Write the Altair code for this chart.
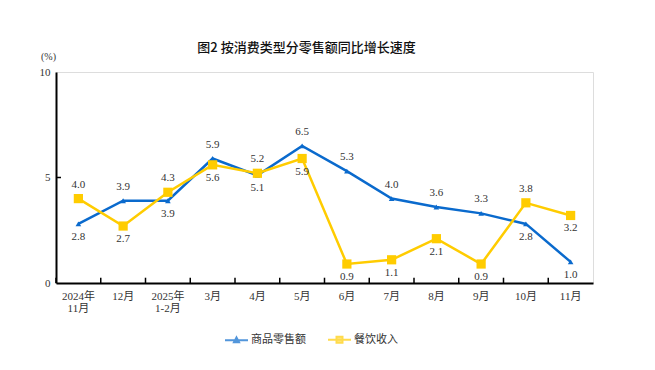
import altair as alt
import pandas as pd

months = ["2024年\n11月", "12月", "2025年\n1-2月", "3月", "4月", "5月",
          "6月", "7月", "8月", "9月", "10月", "11月"]
retail = [2.8, 3.9, 3.9, 5.9, 5.1, 6.5, 5.3, 4.0, 3.6, 3.3, 2.8, 1.0]
catering = [4.0, 2.7, 4.3, 5.6, 5.2, 5.9, 0.9, 1.1, 2.1, 0.9, 3.8, 3.2]
series_names = ["商品零售额", "餐饮收入"]
colors = ["#0A6ACD", "#FFCC00"]

rows = []
for i, m in enumerate(months):
    for s, vals, other in ((series_names[0], retail, catering), (series_names[1], catering, retail)):
        above = vals[i] > other[i]
        if s == series_names[1] and i == len(months) - 1:
            above = False
        rows.append({"month": m, "series": s, "value": vals[i], "above": above})
df = pd.DataFrame(rows)

serif = "Liberation Serif, Noto Sans CJK SC"
txt = "#333333"

x_enc = alt.X("month:N", sort=months,
              scale=alt.Scale(type="band", paddingInner=0, paddingOuter=0),
              axis=alt.Axis(title=None, labelAngle=0, ticks=False, labelPadding=7,
                            labelExpr="split(datum.label, '\\n')",
                            labelFont=serif, labelFontSize=11, labelColor=txt,
                            labelLineHeight=12, domainColor="#000000", domainWidth=2))
y_enc = alt.Y("value:Q", scale=alt.Scale(domain=[0, 10]),
              axis=alt.Axis(values=[0, 5, 10], grid=False, ticks=False, labelPadding=6,
                            labelFont=serif, labelFontSize=11, labelColor=txt,
                            domainColor="#000000", domainWidth=2,
                            title="(%)", titleAngle=0, titleX=-8, titleY=-16,
                            titleAlign="center", titleBaseline="middle",
                            titleFont=serif, titleFontSize=10, titleFontWeight="normal",
                            titleColor=txt))

color_scale = alt.Scale(domain=series_names, range=colors)
leg = alt.Legend(title=None, orient="none", legendX=168, legendY=255,
                 direction="horizontal", symbolSize=529, symbolStrokeWidth=2,
                 columnPadding=18, labelOffset=2, labelFont=serif, labelFontSize=11,
                 labelColor=txt)
base = alt.Chart(df)

lines = base.mark_line(strokeWidth=2.5).encode(
    x=x_enc, y=y_enc,
    color=alt.Color("series:N", scale=color_scale, legend=leg),
)

pts_blue = base.transform_filter(alt.datum.series == series_names[0]).mark_point(
    filled=True, opacity=1, shape="triangle-up", size=32, color=colors[0]
).encode(x=x_enc, y=y_enc)
pts_yellow = base.transform_filter(alt.datum.series == series_names[1]).mark_point(
    filled=True, opacity=1, shape="square", size=85, color=colors[1]
).encode(x=x_enc, y=y_enc)

lab_above = base.transform_filter(alt.datum.above).mark_text(
    dy=-14, font=serif, fontSize=11, color=txt, baseline="middle"
).encode(x=x_enc, y=y_enc, text=alt.Text("value:Q", format=".1f"))
lab_below = base.transform_filter(~alt.datum.above).mark_text(
    dy=13, font=serif, fontSize=11, color=txt, baseline="middle"
).encode(x=x_enc, y=y_enc, text=alt.Text("value:Q", format=".1f"))

tick_df = pd.DataFrame({"month": months})
xticks = alt.Chart(tick_df).mark_rule(color="#000000", strokeWidth=1.5).encode(
    x=alt.X("month:N", sort=months, bandPosition=0),
    y=alt.datum(0), y2=alt.datum(0.25),
)
yticks = alt.Chart(pd.DataFrame({"v": [5]})).mark_rule(color="#000000", strokeWidth=1.5).encode(
    y=alt.Y("v:Q"), x=alt.value(0), x2=alt.value(5),
)

blue_sym = "M-1,0H1M0,-0.24L0.22,0.18L-0.22,0.18Z"
yellow_sym = "M-1,0H1M-0.26,-0.26H0.26V0.26H-0.26Z"
legend = base.mark_point(filled=True, size=1).encode(
    x=x_enc, y=y_enc,
    fill=alt.Fill("series:N", scale=color_scale, legend=leg),
    shape=alt.Shape("series:N", scale=alt.Scale(domain=series_names, range=[blue_sym, yellow_sym]),
                    legend=leg),
)

chart = alt.layer(lines, legend, pts_blue, pts_yellow, lab_above, lab_below, xticks, yticks).properties(
    width=537, height=211,
    title=alt.TitleParams("图2  按消费类型分零售额同比增长速度", font="Noto Sans CJK SC",
                          fontSize=13, fontWeight=500, color="#111111",
                          anchor="middle", dx=-18, offset=-4, frame="group"),
    autosize=alt.AutoSizeParams(type="none"),
    padding={"left": 48, "top": 64, "right": 54, "bottom": 79},
).configure_view(stroke="#A0A0A0", strokeWidth=2).configure(background="white")

chart.save("out.html", embed_options={"renderer": "svg", "actions": False})
